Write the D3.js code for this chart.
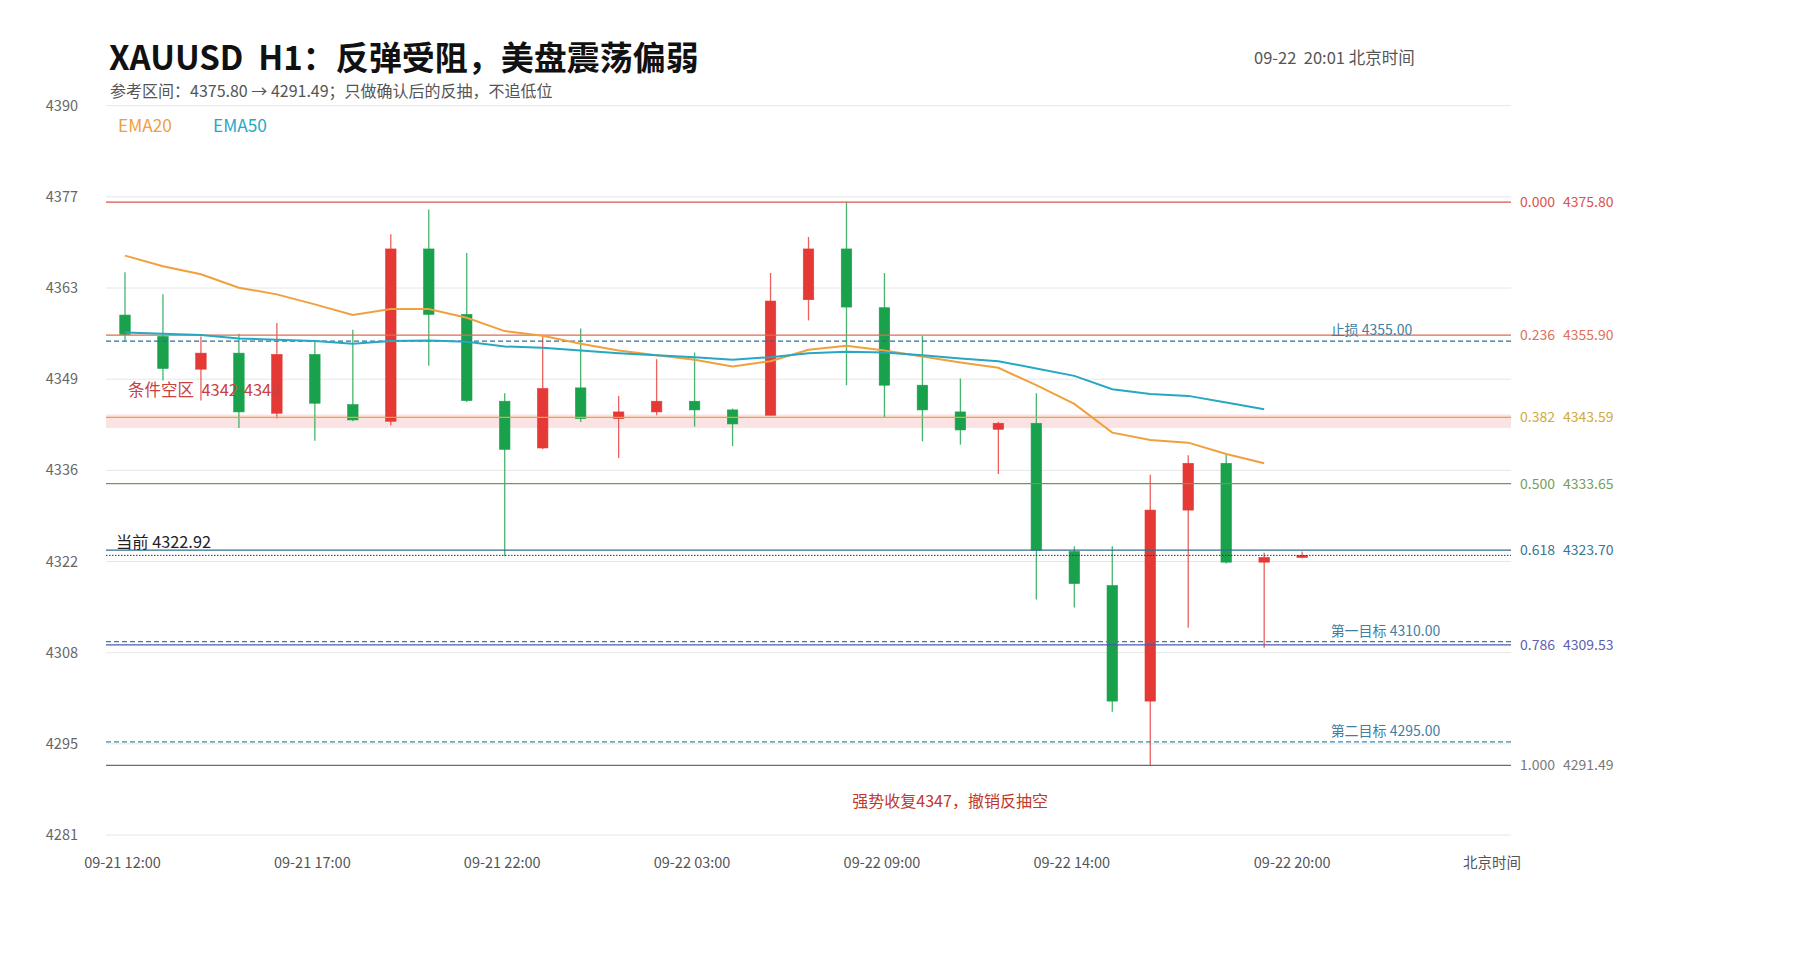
<!DOCTYPE html>
<html><head><meta charset="utf-8">
<script src="https://cdn.jsdelivr.net/npm/d3@7"></script>
<style>
body{margin:0;background:#fff;}
svg{display:block;font-family:"Noto Sans CJK SC","Noto Sans",sans-serif;}
</style>
</head><body>
<svg id="chart" width="1800" height="960"></svg>
<script>
// ---- data ----
const categories = [
  "09-21 12:00","09-21 13:00","09-21 14:00","09-21 15:00","09-21 16:00","09-21 17:00",
  "09-21 18:00","09-21 19:00","09-21 20:00","09-21 21:00","09-21 22:00","09-21 23:00",
  "09-22 00:00","09-22 01:00","09-22 02:00","09-22 03:00","09-22 04:00","09-22 06:00",
  "09-22 07:00","09-22 08:00","09-22 09:00","09-22 10:00","09-22 11:00","09-22 12:00",
  "09-22 13:00","09-22 14:00","09-22 15:00","09-22 16:00","09-22 17:00","09-22 18:00",
  "09-22 19:00","09-22 20:00"
];
const opens  = [4358.9,4355.7,4350.8,4353.2,4344.2,4353.0,4345.5,4343.0,4368.8,4359.0,4346.0,4339.0,
                4348.0,4343.4,4344.4,4346.0,4344.7,4343.9,4361.2,4368.8,4360.0,4348.4,4344.4,4341.8,
                4342.7,4323.5,4318.4,4301.1,4329.7,4336.7,4321.9,4322.6];
const highs  = [4365.3,4362.0,4355.7,4356.1,4357.7,4354.9,4356.7,4371.0,4374.7,4368.2,4347.2,4355.7,
                4356.9,4346.8,4352.3,4353.3,4344.9,4365.2,4370.6,4375.8,4365.2,4355.8,4349.4,4342.9,
                4347.2,4324.3,4324.3,4335.0,4337.9,4338.0,4323.3,4323.5];
const lows   = [4355.0,4349.1,4346.1,4342.0,4343.4,4340.1,4343.0,4342.4,4351.3,4345.9,4322.8,4338.8,
                4342.9,4337.5,4343.9,4342.2,4339.3,4343.9,4358.1,4348.4,4343.5,4340.0,4339.5,4335.1,
                4316.3,4315.1,4299.5,4291.49,4312.1,4321.7,4309.1,4322.5];
const closes = [4356.0,4350.9,4353.2,4344.4,4353.0,4345.7,4343.2,4368.8,4359.0,4346.1,4338.8,4347.9,
                4343.4,4344.4,4346.0,4344.7,4342.6,4361.0,4368.8,4360.1,4348.4,4344.7,4341.7,4342.7,
                4323.7,4318.7,4301.1,4329.7,4336.7,4321.9,4322.6,4322.92];
const ema20 = [4367.8,4366.2,4365.0,4363.0,4362.0,4360.5,4358.9,4359.8,4359.8,4358.5,4356.5,4355.8,
               4354.6,4353.6,4352.9,4352.2,4351.2,4352.0,4353.7,4354.3,4353.6,4352.7,4351.8,4351.0,
               4348.4,4345.6,4341.3,4340.2,4339.8,4338.1,4336.7];
const ema50 = [4356.3,4356.1,4355.9,4355.4,4355.2,4355.0,4354.6,4355.0,4355.1,4354.9,4354.2,4354.0,
               4353.6,4353.2,4352.9,4352.6,4352.2,4352.6,4353.2,4353.4,4353.3,4352.9,4352.4,4352.0,
               4350.9,4349.8,4347.8,4347.1,4346.8,4345.8,4344.8];
const yTickValues = [4281.05,4294.70,4308.35,4322.00,4335.65,4349.30,4362.95,4376.60,4390.25];
const xTickLabels = ["09-21 12:00","09-21 17:00","09-21 22:00","09-22 03:00","09-22 09:00","09-22 14:00","09-22 20:00"];
const fibRatios = ["0.000","0.236","0.382","0.500","0.618","0.786","1.000"];
const fibPrices = [4375.80,4355.90,4343.59,4333.65,4323.70,4309.53,4291.49];
const planLabels = ["止损 4355.00","第一目标 4310.00","第二目标 4295.00"];
const planPrices = [4355.00,4310.00,4295.00];
const zoneRange = [4342,4344];
const zoneLabel = "条件空区  4342-4344";
const currentPrice = 4322.92;
const currentLabel = "当前 4322.92";
const invalidNote = "强势收复4347，撤销反抽空";
const titleText = "XAUUSD  H1：反弹受阻，美盘震荡偏弱";
const subtitleText = "参考区间：4375.80 → 4291.49；只做确认后的反抽，不追低位";
const stampText = "09-22  20:01 北京时间";
const totalSlots = 37;

// ---- styles ----
const fibColors = ["#d9534f","#de6b55","#eba535","#6f9a55","#2f6f8c","#5058ad","#6b6b6b"];
const fibTextColors = ["#d9534f","#e0705a","#d2a93c","#7a9c58","#3a7593","#5c5fb3","#7a7a7a"];
const planColors = ["#2f6f93","#3c7ea8","#3a8ab0"];
const upColor = "#e53935", downColor = "#19a24b";

const svg = d3.select("#chart");
svg.append("rect").attr("width",1800).attr("height",960).attr("fill","#fff");

const L = 106, R = 1511, T = 105.7, B = 835;
const x = d3.scaleLinear().domain([-0.5, totalSlots-0.5]).range([L, R]);
const y = d3.scaleLinear().domain([yTickValues[0], yTickValues[yTickValues.length-1]]).range([B, T]);

// gridlines
svg.append("g").selectAll("line").data(yTickValues).join("line")
  .attr("x1",L).attr("x2",R).attr("y1",d=>y(d)).attr("y2",d=>y(d))
  .attr("stroke","#e6e6e6").attr("stroke-width",1);
// y axis labels
const yAxis = d3.axisLeft(y).tickValues(yTickValues).tickFormat(d=>d.toFixed(0)).tickSize(0).tickPadding(0);
const ya = svg.append("g").attr("transform",`translate(${L-28},0)`).call(yAxis);
ya.select(".domain").remove();
ya.selectAll("text").attr("fill","#666").attr("font-size",14.5).attr("font-family","'Noto Sans CJK SC','Noto Sans',sans-serif");

// zone band
svg.append("rect").attr("x",L).attr("width",R-L)
  .attr("y",y(zoneRange[1])).attr("height",y(zoneRange[0])-y(zoneRange[1]))
  .attr("fill","#fbe3e3");

// candles
const idx = d3.range(categories.length);
const cg = svg.append("g");
const bw = 10.5;
cg.selectAll("line").data(idx).join("line")
  .attr("x1",i=>x(i)).attr("x2",i=>x(i))
  .attr("y1",i=>y(highs[i])).attr("y2",i=>y(lows[i]))
  .attr("stroke",i=>closes[i]>=opens[i]?upColor:downColor).attr("stroke-width",1.3).attr("stroke-opacity",0.8);
cg.selectAll("rect").data(idx).join("rect")
  .attr("x",i=>x(i)-bw/2).attr("width",bw)
  .attr("y",i=>y(Math.max(opens[i],closes[i])))
  .attr("height",i=>Math.max(2,Math.abs(y(opens[i])-y(closes[i]))))
  .attr("fill",i=>closes[i]>=opens[i]?upColor:downColor)
  .attr("stroke",i=>closes[i]>=opens[i]?upColor:downColor).attr("stroke-width",0.6);

// fib lines
svg.append("g").selectAll("line").data(fibPrices).join("line")
  .attr("x1",L).attr("x2",R).attr("y1",d=>y(d)).attr("y2",d=>y(d))
  .attr("stroke",(d,i)=>fibColors[i]).attr("stroke-width",1.2);
const fl = svg.append("g").attr("font-size",14);
fl.selectAll("text.r").data(fibRatios).join("text").attr("class","r")
  .attr("x",R+9).attr("y",(d,i)=>y(fibPrices[i])).attr("dy","0.35em")
  .attr("fill",(d,i)=>fibTextColors[i]).text(d=>d);
fl.selectAll("text.p").data(fibPrices).join("text").attr("class","p")
  .attr("x",R+52).attr("y",d=>y(d)).attr("dy","0.35em")
  .attr("fill",(d,i)=>fibTextColors[i]).text(d=>d.toFixed(2));

// plan dashed lines
svg.append("g").selectAll("line").data(planPrices).join("line")
  .attr("x1",L).attr("x2",R).attr("y1",d=>y(d)).attr("y2",d=>y(d))
  .attr("stroke",(d,i)=>planColors[i]).attr("stroke-width",1.3).attr("stroke-dasharray","5,3");
svg.append("g").selectAll("text").data(planLabels).join("text")
  .attr("x",x(31.75)).attr("y",(d,i)=>y(planPrices[i])-6)
  .attr("fill","#3f7fa3").attr("font-size",14).text(d=>d);

// current price dotted
svg.append("line").attr("x1",L).attr("x2",R).attr("y1",y(currentPrice)).attr("y2",y(currentPrice))
  .attr("stroke","#333").attr("stroke-width",1).attr("stroke-dasharray","1.5,1.5");
svg.append("text").attr("x",L+10).attr("y",y(currentPrice)-7).attr("fill","#222").attr("font-size",16.3).text(currentLabel);

// EMA lines
const lineGen = d3.line().x((d,i)=>x(i)).y(d=>y(d));
svg.append("path").attr("d",lineGen(ema20)).attr("fill","none").attr("stroke","#f0a03c").attr("stroke-width",2);
svg.append("path").attr("d",lineGen(ema50)).attr("fill","none").attr("stroke","#26a8c2").attr("stroke-width",2);

// zone label
svg.append("text").attr("x",L+22).attr("y",y(zoneRange[1])-19).attr("fill","#c9413f").attr("font-size",16.5)
  .attr("xml:space","preserve").style("white-space","pre").text(zoneLabel);

// legend
svg.append("text").attr("x",118).attr("y",132).attr("fill","#f0a03c").attr("font-size",17.3).text("EMA20");
svg.append("text").attr("x",213).attr("y",132).attr("fill","#26a8c2").attr("font-size",17.3).text("EMA50");

// x labels
const xa = svg.append("g").attr("font-size",14.5).attr("fill","#555");
xa.selectAll("text").data(xTickLabels).join("text")
  .attr("x",d=>x(categories.indexOf(d))).attr("dx",(d,i)=>i===xTickLabels.length-1?-10:-2.5)
  .attr("y",868).attr("text-anchor","middle").text(d=>d);
xa.append("text").attr("x",1492).attr("y",868).attr("text-anchor","middle").text("北京时间");

// note
svg.append("text").attr("x",x(21.73)).attr("y",807).attr("text-anchor","middle").attr("fill","#c0392b").attr("font-size",16).text(invalidNote);

// titles
svg.append("text").attr("x",109).attr("y",69.5).attr("font-size",33).attr("font-weight","bold").attr("fill","#111")
  .attr("xml:space","preserve").style("white-space","pre").text(titleText);
svg.append("text").attr("x",110).attr("y",97).attr("font-size",16).attr("fill","#555").text(subtitleText);
svg.append("text").attr("x",1254).attr("y",64).attr("font-size",16.5).attr("fill","#555")
  .attr("xml:space","preserve").style("white-space","pre").text(stampText);
</script>
</body></html>
